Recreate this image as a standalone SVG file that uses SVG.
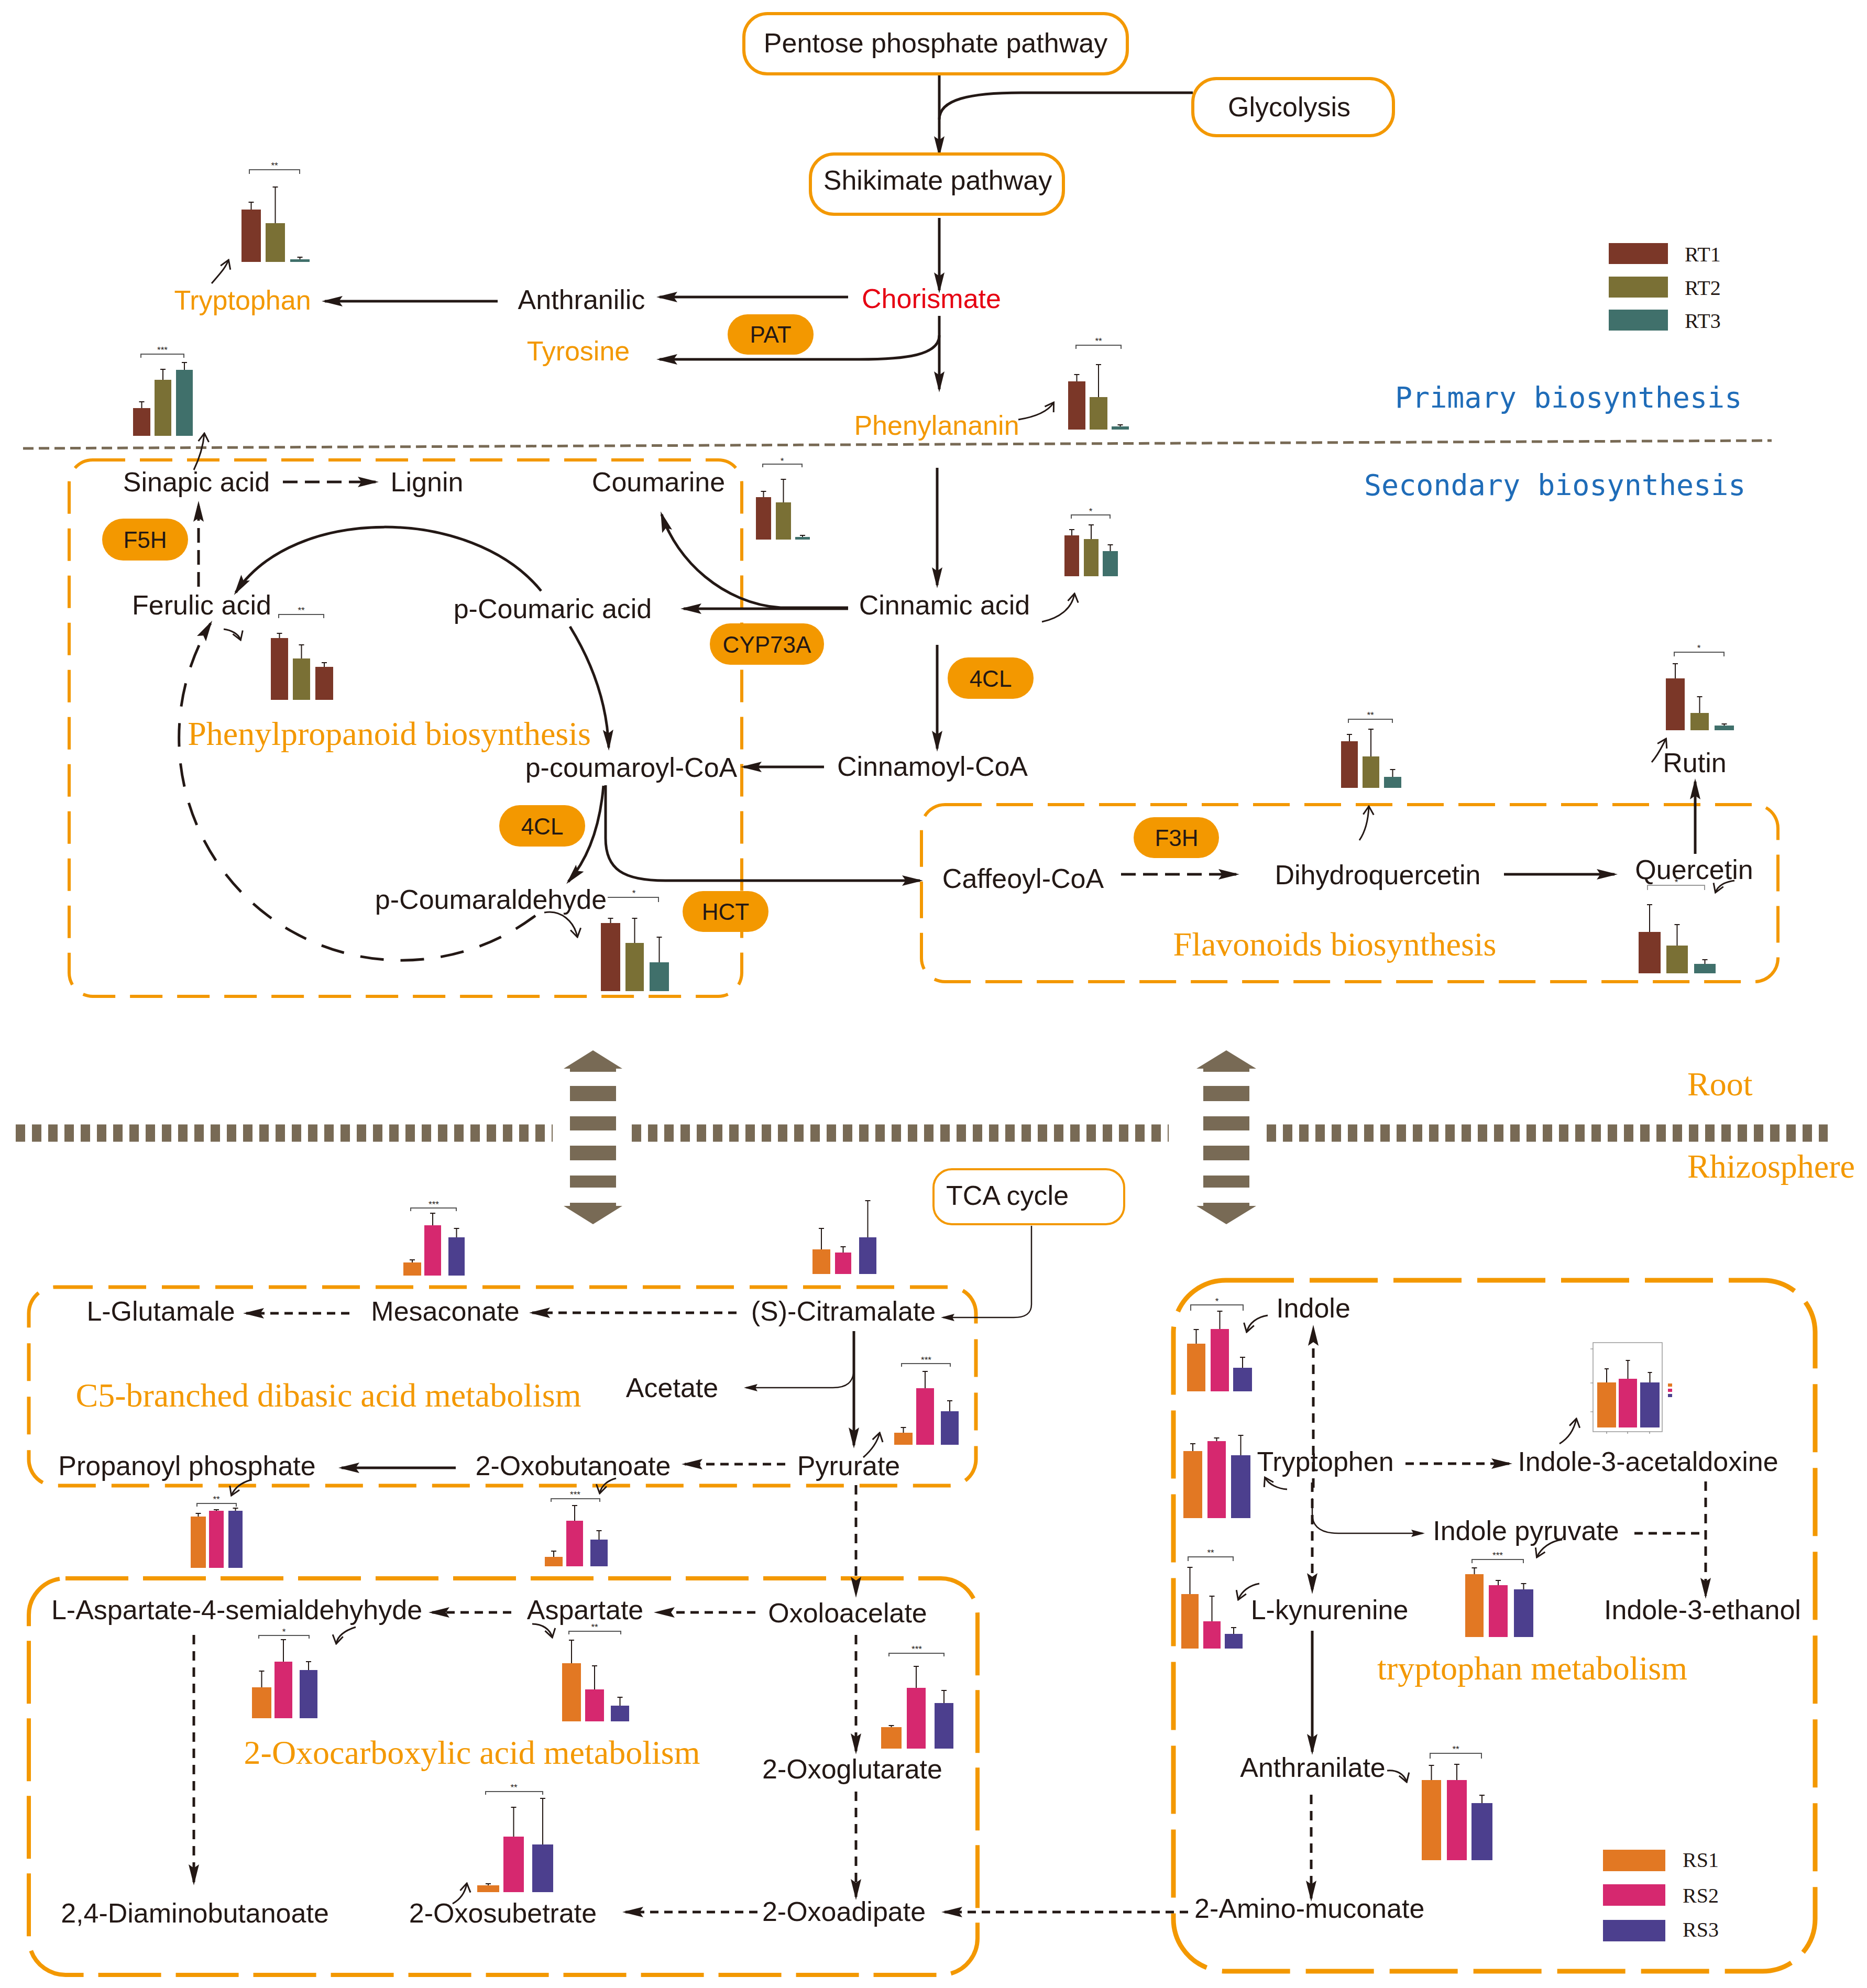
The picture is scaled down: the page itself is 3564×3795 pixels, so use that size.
<svg xmlns="http://www.w3.org/2000/svg" width="3564" height="3795" viewBox="0 0 3564 3795">
<style>
.lbl{font-family:"Liberation Sans",Arial,sans-serif;font-size:52px;fill:#231815;text-anchor:middle}
.pt{font-family:"Liberation Sans",Arial,sans-serif;font-size:44px;fill:#231815;text-anchor:middle}
.ser{font-family:"Liberation Serif","Times New Roman",serif;font-size:64px;fill:#F39800;text-anchor:middle}
.mono{font-family:"DejaVu Sans Mono","Liberation Mono",monospace;font-size:55px;fill:#1F6CB8}
.leg{font-family:"Liberation Serif","Times New Roman",serif;font-size:40px;fill:#231815}
.ast{font-family:"Liberation Sans",Arial,sans-serif;font-size:17px;fill:#231815;text-anchor:middle}
.org{fill:#F39800}
.red{fill:#E60012}
.nb{fill:#fff;stroke:#F39800;stroke-width:6}
.pill{fill:#F39800}
.ln{fill:none;stroke:#231815;stroke-width:5}
.th{fill:none;stroke:#231815;stroke-width:2.5}
.cv{fill:none;stroke:#231815;stroke-width:3}
.d1{stroke-dasharray:16 11}
.d2{stroke-dasharray:28 14}
.d3{stroke-dasharray:18 13}
.reg{fill:none;stroke:#F39800}
.rt1{fill:#7B3728}.rt2{fill:#7A7035}.rt3{fill:#40706B}
.rs1{fill:#E27823}.rs2{fill:#D6286F}.rs3{fill:#4C3F8E}
.eb{fill:none;stroke:#231815;stroke-width:2}
.br{fill:none;stroke:#555;stroke-width:2}
.sep{fill:#786A55}
</style>
<defs>
<marker id="ah" markerUnits="userSpaceOnUse" viewBox="0 0 40 20" markerWidth="40" markerHeight="20" refX="34" refY="10" orient="auto"><path d="M0,0 L40,10 L0,20 L7,10 z" fill="#231815"/></marker>
<marker id="ahs" markerUnits="userSpaceOnUse" viewBox="0 0 26 14" markerWidth="26" markerHeight="14" refX="22" refY="7" orient="auto"><path d="M0,0 L26,7 L0,14 L4,7 z" fill="#231815"/></marker>
<marker id="v" markerUnits="userSpaceOnUse" viewBox="0 0 20 24" markerWidth="20" markerHeight="24" refX="17" refY="12" orient="auto"><path d="M2,2 L18,12 L2,22" fill="none" stroke="#231815" stroke-width="3"/></marker>
</defs>
<rect width="3564" height="3795" fill="#fff"/>

<!-- separators -->
<g id="separators">
<line x1="44" y1="856" x2="3382" y2="841" stroke="#786A55" stroke-width="5" stroke-dasharray="20 10"/>
<g stroke="#786A55" stroke-width="33" stroke-dasharray="18 13">
<line x1="30" y1="2163" x2="1055" y2="2163"/>
<line x1="1206" y1="2163" x2="2231" y2="2163"/>
<line x1="2418" y1="2163" x2="3489" y2="2163"/>
</g>
</g>
<g id="exchange-left" class="sep">
<polygon points="1132,2005 1188,2040 1076,2040"/><rect x="1088" y="2038" width="88" height="8"/>
<rect x="1088" y="2073" width="88" height="29"/><rect x="1088" y="2131" width="88" height="27"/><rect x="1088" y="2187" width="88" height="28"/><rect x="1088" y="2244" width="88" height="23"/>
<rect x="1088" y="2296" width="88" height="8"/><polygon points="1076,2302 1188,2302 1132,2337"/>
</g>
<g id="exchange-right" class="sep">
<polygon points="2341,2005 2398,2040 2284,2040"/><rect x="2297" y="2038" width="88" height="8"/>
<rect x="2297" y="2073" width="88" height="29"/><rect x="2297" y="2131" width="88" height="27"/><rect x="2297" y="2187" width="88" height="28"/><rect x="2297" y="2244" width="88" height="23"/>
<rect x="2297" y="2296" width="88" height="8"/><polygon points="2284,2302 2398,2302 2341,2337"/>
</g>

<!-- region boxes -->
<g id="region-phenylpropanoid"><rect class="reg" x="132" y="878" width="1284" height="1024" rx="45" stroke-width="6" stroke-dasharray="62 28"/><text class="ser" x="743" y="1422">Phenylpropanoid biosynthesis</text></g>
<g id="region-flavonoids"><rect class="reg" x="1759" y="1536" width="1635" height="338" rx="45" stroke-width="6" stroke-dasharray="70 28"/><text class="ser" x="2548" y="1824">Flavonoids biosynthesis</text></g>
<g id="region-c5"><rect class="reg" x="55" y="2457" width="1808" height="379" rx="50" stroke-width="7" stroke-dasharray="72 30"/><text class="ser" x="627" y="2685">C5-branched dibasic acid metabolism</text></g>
<g id="region-oxocarboxylic"><rect class="reg" x="55" y="3013" width="1811" height="757" rx="70" stroke-width="8" stroke-dasharray="120 28"/><text class="ser" x="901" y="3367">2-Oxocarboxylic acid metabolism</text></g>
<g id="region-tryptophan"><rect class="reg" x="2240" y="2444" width="1225" height="1319" rx="100" stroke-width="9" stroke-dasharray="130 30"/><text class="ser" x="2925" y="3206">tryptophan metabolism</text></g>

<g id="section-labels">
<text class="mono" x="2663" y="778">Primary biosynthesis</text>
<text class="mono" x="2604" y="945">Secondary biosynthesis</text>
<text class="ser" x="3221" y="2091" style="text-anchor:start">Root</text>
<text class="ser" x="3221" y="2248" style="text-anchor:start">Rhizosphere</text>
</g>

<!-- connectors -->
<g id="connectors">
<path class="ln" d="M1793,141 V294" marker-end="url(#ah)"/>
<path class="ln" d="M2277,177 H1950 C1850,177 1793,190 1793,228"/>
<path class="ln" d="M1793,416 V554" marker-end="url(#ah)"/>
<path class="ln" d="M1619,567 H1259" marker-end="url(#ah)"/>
<path class="ln" d="M950,575 H620" marker-end="url(#ah)"/>
<path class="ln" d="M1793,603 V743" marker-end="url(#ah)"/>
<path class="ln" d="M1793,640 C1793,678 1730,686 1640,686 H1259" marker-end="url(#ah)"/>
<path class="ln" d="M1789,893 V1117" marker-end="url(#ah)"/>
<path class="ln" d="M1619,1162 H1305" marker-end="url(#ah)"/>
<path class="ln" d="M1619,1160 H1490 C1380,1152 1292,1070 1263,982" marker-end="url(#ah)"/>
<path class="ln" d="M1789,1231 V1429" marker-end="url(#ah)"/>
<path class="ln" d="M1573,1464 H1420" marker-end="url(#ah)"/>
<path class="ln" d="M1088,1196 Q1158,1310 1162,1427" marker-end="url(#ah)"/>
<path class="ln" d="M1033,1128 C900,965 560,965 450,1131" marker-end="url(#ah)"/>
<path class="ln" d="M1152,1500 C1145,1580 1122,1640 1085,1683" marker-end="url(#ah)"/>
<path class="ln" d="M1156,1499 V1600 C1156,1660 1190,1681 1270,1681 H1756" marker-end="url(#ah)"/>
<path class="ln" d="M1022,1748 A425,425 0 0 1 402,1190" stroke-dasharray="45 32" marker-end="url(#ah)"/>
<path class="ln d2" d="M379,1120 V962" marker-end="url(#ah)"/>
<path class="ln d2" d="M540,920 H717" marker-end="url(#ah)"/>
<path class="ln d2" d="M2140,1669 H2360" marker-end="url(#ah)"/>
<path class="ln" d="M2871,1669 H3082" marker-end="url(#ah)"/>
<path class="ln" d="M3236,1630 V1492" marker-end="url(#ah)"/>
<!-- chart pointers top -->
<path class="cv" d="M370,897 C382,872 388,850 390,828" marker-end="url(#v)"/>
<path class="cv" d="M404,541 C420,522 430,512 436,497" marker-end="url(#v)"/>
<path class="cv" d="M1944,801 C1975,796 2000,786 2011,769" marker-end="url(#v)"/>
<path class="cv" d="M1989,1187 C2022,1180 2046,1162 2051,1134" marker-end="url(#v)"/>
<path class="cv" d="M427,1201 C442,1203 455,1210 459,1221" marker-end="url(#v)"/>
<path class="cv" d="M1039,1742 C1072,1736 1096,1760 1102,1788" marker-end="url(#v)"/>
<path class="cv" d="M2595,1604 C2608,1585 2612,1562 2613,1540" marker-end="url(#v)"/>
<path class="cv" d="M3153,1455 C3166,1440 3172,1426 3180,1411" marker-end="url(#v)"/>
<path class="cv" d="M3311,1681 C3292,1684 3280,1690 3275,1703" marker-end="url(#v)"/>
<!-- bottom -->
<path class="th" d="M1969,2340 V2490 C1969,2508 1957,2515 1935,2515 H1800" marker-end="url(#ahs)"/>
<path class="ln d1" d="M1406,2506 H1016" marker-end="url(#ah)"/>
<path class="ln d1" d="M667,2507 H470" marker-end="url(#ah)"/>
<path class="ln" d="M1630,2541 V2759" marker-end="url(#ah)"/>
<path class="th" d="M1630,2612 C1630,2640 1615,2649 1590,2649 H1424" marker-end="url(#ahs)"/>
<path class="ln d1" d="M1499,2795 H1307" marker-end="url(#ah)"/>
<path class="ln" d="M870,2802 H652" marker-end="url(#ah)"/>
<path class="ln d3" d="M1634,2835 V3044" marker-end="url(#ah)"/>
<path class="ln d1" d="M1442,3078 H1254" marker-end="url(#ah)"/>
<path class="ln d1" d="M976,3078 H824" marker-end="url(#ah)"/>
<path class="ln d3" d="M370,3121 V3593" marker-end="url(#ah)"/>
<path class="ln d3" d="M1634,3121 V3343" marker-end="url(#ah)"/>
<path class="ln d3" d="M1634,3420 V3621" marker-end="url(#ah)"/>
<path class="ln d1" d="M1446,3650 H1194" marker-end="url(#ah)"/>
<path class="ln d1" d="M2268,3650 H1803" marker-end="url(#ah)"/>
<path class="ln d3" d="M2507,2840 V2535" marker-end="url(#ah)"/>
<path class="ln d3" d="M2505,2830 V3037" marker-end="url(#ah)"/>
<path class="ln d1" d="M2683,2794 H2881" marker-end="url(#ah)"/>
<path class="th" d="M2505,2860 V2890 C2505,2915 2522,2927 2555,2927 H2716" marker-end="url(#ahs)"/>
<path class="ln d1" d="M3120,2927 H3256"/>
<path class="ln d3" d="M3256,2828 V3046" marker-end="url(#ah)"/>
<path class="ln" d="M2505,3113 V3344" marker-end="url(#ah)"/>
<path class="ln d3" d="M2503,3426 V3624" marker-end="url(#ah)"/>
<!-- chart pointers bottom -->
<path class="cv" d="M1648,2782 C1664,2768 1675,2752 1679,2736" marker-end="url(#v)"/>
<path class="cv" d="M479,2825 C462,2830 448,2840 442,2854" marker-end="url(#v)"/>
<path class="cv" d="M1176,2822 C1160,2826 1148,2836 1145,2850" marker-end="url(#v)"/>
<path class="cv" d="M679,3106 C660,3112 645,3122 642,3137" marker-end="url(#v)"/>
<path class="cv" d="M1016,3100 C1035,3100 1050,3110 1054,3125" marker-end="url(#v)"/>
<path class="cv" d="M864,3634 C880,3625 888,3612 891,3596" marker-end="url(#v)"/>
<path class="cv" d="M2420,2511 C2400,2514 2385,2525 2380,2542" marker-end="url(#v)"/>
<path class="cv" d="M2457,2843 C2440,2842 2422,2834 2415,2821" marker-end="url(#v)"/>
<path class="cv" d="M2977,2756 C2995,2745 3005,2728 3009,2709" marker-end="url(#v)"/>
<path class="cv" d="M2982,2939 C2960,2942 2942,2955 2934,2972" marker-end="url(#v)"/>
<path class="cv" d="M2404,3023 C2385,3026 2370,3038 2364,3053" marker-end="url(#v)"/>
<path class="cv" d="M2648,3380 C2665,3378 2680,3386 2685,3401" marker-end="url(#v)"/>
</g>

<!-- nodes -->
<g id="n-pentose"><rect class="nb" x="1420" y="26" width="732" height="115" rx="45"/><text class="lbl" x="1786" y="100">Pentose phosphate pathway</text></g>
<g id="n-glycolysis"><rect class="nb" x="2277" y="150" width="383" height="109" rx="45"/><text class="lbl" x="2461" y="222">Glycolysis</text></g>
<g id="n-shikimate"><rect class="nb" x="1547" y="294" width="483" height="115" rx="45"/><text class="lbl" x="1790" y="362">Shikimate pathway</text></g>
<g id="n-chorismate"><text class="lbl red" x="1778" y="588">Chorismate</text></g>
<g id="n-anthranilic"><text class="lbl" x="1110" y="590">Anthranilic</text></g>
<g id="n-tryptophan"><text class="lbl org" x="463" y="591">Tryptophan</text></g>
<g id="n-tyrosine"><text class="lbl org" x="1104" y="688">Tyrosine</text></g>
<g id="n-phenylananin"><text class="lbl org" x="1788" y="830">Phenylananin</text></g>
<g id="n-sinapic"><text class="lbl" x="375" y="938">Sinapic acid</text></g>
<g id="n-lignin"><text class="lbl" x="815" y="938">Lignin</text></g>
<g id="n-coumarine"><text class="lbl" x="1257" y="938">Coumarine</text></g>
<g id="n-ferulic"><text class="lbl" x="385" y="1173">Ferulic acid</text></g>
<g id="n-pcoumaric"><text class="lbl" x="1055" y="1180">p-Coumaric acid</text></g>
<g id="n-cinnamic"><text class="lbl" x="1803" y="1173">Cinnamic acid</text></g>
<g id="n-pcoumaroyl"><text class="lbl" x="1205" y="1483">p-coumaroyl-CoA</text></g>
<g id="n-cinnamoyl"><text class="lbl" x="1780" y="1481">Cinnamoyl-CoA</text></g>
<g id="n-pcoumaraldehyde"><text class="lbl" x="937" y="1735">p-Coumaraldehyde</text></g>
<g id="n-caffeoyl"><text class="lbl" x="1953" y="1695">Caffeoyl-CoA</text></g>
<g id="n-dihydroquercetin"><text class="lbl" x="2630" y="1688">Dihydroquercetin</text></g>
<g id="n-quercetin"><text class="lbl" x="3234" y="1678">Quercetin</text></g>
<g id="n-rutin"><text class="lbl" x="3235" y="1474">Rutin</text></g>

<g id="e-pat"><rect class="pill" x="1389" y="600" width="164" height="77" rx="38"/><text class="pt" x="1471" y="654">PAT</text></g>
<g id="e-f5h"><rect class="pill" x="195" y="990" width="164" height="80" rx="40"/><text class="pt" x="277" y="1046">F5H</text></g>
<g id="e-cyp73a"><rect class="pill" x="1355" y="1190" width="218" height="79" rx="39"/><text class="pt" x="1464" y="1246">CYP73A</text></g>
<g id="e-4cl-right"><rect class="pill" x="1809" y="1255" width="164" height="79" rx="39"/><text class="pt" x="1891" y="1311">4CL</text></g>
<g id="e-4cl-left"><rect class="pill" x="953" y="1537" width="164" height="79" rx="39"/><text class="pt" x="1035" y="1593">4CL</text></g>
<g id="e-hct"><rect class="pill" x="1303" y="1701" width="164" height="78" rx="39"/><text class="pt" x="1385" y="1756">HCT</text></g>
<g id="e-f3h"><rect class="pill" x="2164" y="1560" width="163" height="78" rx="39"/><text class="pt" x="2246" y="1615">F3H</text></g>

<g id="n-tca"><rect class="nb" x="1782" y="2232" width="364" height="105" rx="35" style="stroke-width:4"/><text class="lbl" x="1806" y="2300" style="text-anchor:start">TCA cycle</text></g>
<g id="n-glutamale"><text class="lbl" x="307" y="2521">L-Glutamale</text></g>
<g id="n-mesaconate"><text class="lbl" x="850" y="2521">Mesaconate</text></g>
<g id="n-citramalate"><text class="lbl" x="1610" y="2521">(S)-Citramalate</text></g>
<g id="n-acetate"><text class="lbl" x="1283" y="2667">Acetate</text></g>
<g id="n-propanoyl"><text class="lbl" x="357" y="2816">Propanoyl phosphate</text></g>
<g id="n-oxobutanoate"><text class="lbl" x="1094" y="2816">2-Oxobutanoate</text></g>
<g id="n-pyrurate"><text class="lbl" x="1620" y="2816">Pyrurate</text></g>
<g id="n-laspartate"><text class="lbl" x="452" y="3091">L-Aspartate-4-semialdehyhyde</text></g>
<g id="n-aspartate"><text class="lbl" x="1117" y="3091">Aspartate</text></g>
<g id="n-oxoloacelate"><text class="lbl" x="1618" y="3097">Oxoloacelate</text></g>
<g id="n-oxoglutarate"><text class="lbl" x="1627" y="3395">2-Oxoglutarate</text></g>
<g id="n-diaminobutanoate"><text class="lbl" x="372" y="3670">2,4-Diaminobutanoate</text></g>
<g id="n-oxosubetrate"><text class="lbl" x="960" y="3670">2-Oxosubetrate</text></g>
<g id="n-oxoadipate"><text class="lbl" x="1611" y="3667">2-Oxoadipate</text></g>
<g id="n-indole"><text class="lbl" x="2507" y="2515">Indole</text></g>
<g id="n-tryptophen"><text class="lbl" x="2530" y="2808">Tryptophen</text></g>
<g id="n-acetaldoxine"><text class="lbl" x="3146" y="2808">Indole-3-acetaldoxine</text></g>
<g id="n-indolepyruvate"><text class="lbl" x="2913" y="2940">Indole pyruvate</text></g>
<g id="n-kynurenine"><text class="lbl" x="2538" y="3091">L-kynurenine</text></g>
<g id="n-ethanol"><text class="lbl" x="3250" y="3091">Indole-3-ethanol</text></g>
<g id="n-anthranilate"><text class="lbl" x="2506" y="3392">Anthranilate</text></g>
<g id="n-aminomuconate"><text class="lbl" x="2280" y="3661" style="text-anchor:start">2-Amino-muconate</text></g>

<!-- legends -->
<g id="legend-rt">
<rect class="rt1" x="3071" y="464" width="113" height="40"/><text class="leg" x="3216" y="499">RT1</text>
<rect class="rt2" x="3071" y="528" width="113" height="40"/><text class="leg" x="3216" y="563">RT2</text>
<rect class="rt3" x="3071" y="591" width="113" height="40"/><text class="leg" x="3216" y="626">RT3</text>
</g>
<g id="legend-rs">
<rect class="rs1" x="3060" y="3531" width="119" height="41"/><text class="leg" x="3212" y="3564">RS1</text>
<rect class="rs2" x="3060" y="3597" width="119" height="41"/><text class="leg" x="3212" y="3632">RS2</text>
<rect class="rs3" x="3060" y="3665" width="119" height="41"/><text class="leg" x="3212" y="3697">RS3</text>
</g>

<!-- charts -->
<g id="c-tryptophan"><rect class="rt1" x="461" y="400" width="37" height="100"/><rect class="rt2" x="507" y="426" width="37" height="74"/><rect class="rt3" x="554" y="495" width="37" height="5"/>
<path class="eb" d="M479.5,400V386M474.5,386H484.5M525.5,426V357M520.5,357H530.5M572.5,495V491M567.5,491H577.5"/>
<path class="br" d="M476,332V324H572V332"/><text class="ast" x="524" y="322">**</text></g>
<g id="c-sinapic"><rect class="rt1" x="254" y="779" width="33" height="53"/><rect class="rt2" x="295" y="725" width="32" height="107"/><rect class="rt3" x="336" y="706" width="32" height="126"/>
<path class="eb" d="M270.5,779V767M265.5,767H275.5M311,725V705M306,705H316M352,706V692M347,692H357"/>
<path class="br" d="M269,683V676H351V683"/><text class="ast" x="310" y="674">***</text></g>
<g id="c-phenylananin"><rect class="rt1" x="2039" y="728" width="33" height="92"/><rect class="rt2" x="2080" y="758" width="34" height="62"/><rect class="rt3" x="2122" y="814" width="33" height="6"/>
<path class="eb" d="M2055.5,728V715M2050.5,715H2060.5M2097,758V696M2092,696H2102M2138.5,814V811M2133.5,811H2143.5"/>
<path class="br" d="M2054,666V659H2140V666"/><text class="ast" x="2097" y="657">**</text></g>
<g id="c-coumarine"><rect class="rt1" x="1443" y="949" width="29" height="81"/><rect class="rt2" x="1481" y="959" width="29" height="71"/><rect class="rt3" x="1518" y="1025" width="28" height="5"/>
<path class="eb" d="M1457.5,949V938M1452.5,938H1462.5M1495.5,959V915M1490.5,915H1500.5M1532,1025V1022M1527,1022H1537"/>
<path class="br" d="M1456,892V886H1531V892"/><text class="ast" x="1493" y="886">*</text></g>
<g id="c-cinnamic"><rect class="rt1" x="2032" y="1022" width="28" height="78"/><rect class="rt2" x="2069" y="1029" width="28" height="71"/><rect class="rt3" x="2105" y="1052" width="29" height="48"/>
<path class="eb" d="M2046,1022V1011M2041,1011H2051M2083,1029V1002M2078,1002H2088M2119.5,1052V1040M2114.5,1040H2124.5"/>
<path class="br" d="M2045,990V983H2119V990"/><text class="ast" x="2082" y="982">*</text></g>
<g id="c-ferulic"><rect class="rt1" x="517" y="1218" width="33" height="118"/><rect class="rt2" x="559" y="1257" width="33" height="79"/><rect class="rt1" x="602" y="1273" width="34" height="63"/>
<path class="eb" d="M533.5,1218V1209M528.5,1209H538.5M575.5,1257V1231M570.5,1231H580.5M619,1273V1265M614,1265H624"/>
<path class="br" d="M532,1180V1173H618V1180"/><text class="ast" x="575" y="1171">**</text></g>
<g id="c-pcoumaraldehyde"><rect class="rt1" x="1147" y="1762" width="37" height="130"/><rect class="rt2" x="1194" y="1800" width="35" height="92"/><rect class="rt3" x="1240" y="1837" width="37" height="55"/>
<path class="eb" d="M1165.5,1762V1753M1160.5,1753H1170.5M1211.5,1800V1753M1206.5,1753H1216.5M1258.5,1837V1789M1253.5,1789H1263.5"/>
<path class="br" d="M1160,1713H1257V1722"/><text class="ast" x="1210" y="1711">*</text></g>
<g id="c-dihydroquercetin"><rect class="rt1" x="2560" y="1415" width="32" height="89"/><rect class="rt2" x="2601" y="1444" width="32" height="60"/><rect class="rt3" x="2642" y="1483" width="33" height="21"/>
<path class="eb" d="M2576,1415V1402M2571,1402H2581M2617,1444V1392M2612,1392H2622M2658.5,1483V1469M2653.5,1469H2663.5"/>
<path class="br" d="M2574,1380V1373H2658V1380"/><text class="ast" x="2616" y="1371">**</text></g>
<g id="c-rutin"><rect class="rt1" x="3180" y="1295" width="36" height="99"/><rect class="rt2" x="3227" y="1361" width="35" height="33"/><rect class="rt3" x="3273" y="1385" width="37" height="9"/>
<path class="eb" d="M3198,1295V1267M3193,1267H3203M3244.5,1361V1330M3239.5,1330H3249.5M3291.5,1385V1382M3286.5,1382H3296.5"/>
<path class="br" d="M3196,1253V1245H3291V1253"/><text class="ast" x="3243" y="1243">*</text></g>
<g id="c-quercetin"><rect class="rt1" x="3128" y="1779" width="42" height="79"/><rect class="rt2" x="3181" y="1805" width="41" height="53"/><rect class="rt3" x="3234" y="1840" width="41" height="18"/>
<path class="eb" d="M3149,1779V1727M3144,1727H3154M3201.5,1805V1765M3196.5,1765H3206.5M3254.5,1840V1832M3249.5,1832H3259.5"/>
<path class="br" d="M3145,1699V1690H3254V1699" style="stroke:#999"/><text class="ast" x="3200" y="1690">*</text></g>

<g id="c-mesaconate"><rect class="rs1" x="770" y="2410" width="34" height="25"/><rect class="rs2" x="810" y="2339" width="32" height="96"/><rect class="rs3" x="856" y="2362" width="31" height="73"/>
<path class="eb" d="M787,2410V2405M782,2405H792M826,2339V2316M821,2316H831M871.5,2362V2345M866.5,2345H876.5"/>
<path class="br" d="M784,2312V2306H871V2312"/><text class="ast" x="828" y="2305">***</text></g>
<g id="c-citramalate"><rect class="rs1" x="1551" y="2385" width="34" height="47"/><rect class="rs2" x="1594" y="2391" width="31" height="41"/><rect class="rs3" x="1640" y="2362" width="33" height="70"/>
<path class="eb" d="M1568,2385V2345M1563,2345H1573M1609.5,2391V2380M1604.5,2380H1614.5M1656.5,2362V2292M1651.5,2292H1661.5"/></g>
<g id="c-pyrurate"><rect class="rs1" x="1707" y="2735" width="35" height="23"/><rect class="rs2" x="1749" y="2650" width="34" height="108"/><rect class="rs3" x="1796" y="2694" width="34" height="64"/>
<path class="eb" d="M1724.5,2735V2725M1719.5,2725H1729.5M1766,2650V2618M1761,2618H1771M1813,2694V2674M1808,2674H1818"/>
<path class="br" d="M1721,2609V2603H1814V2609"/><text class="ast" x="1768" y="2602">***</text></g>
<g id="c-propanoyl"><rect class="rs1" x="364" y="2895" width="29" height="98"/><rect class="rs2" x="399" y="2884" width="28" height="109"/><rect class="rs3" x="436" y="2884" width="27" height="109"/>
<path class="eb" d="M378.5,2895V2889M373.5,2889H383.5M413,2884V2882M408,2882H418M449.5,2884V2879M444.5,2879H454.5"/>
<path class="br" d="M376,2876V2870H451V2876"/><text class="ast" x="413" y="2868">**</text></g>
<g id="c-oxobutanoate"><rect class="rs1" x="1040" y="2972" width="34" height="18"/><rect class="rs2" x="1081" y="2903" width="32" height="87"/><rect class="rs3" x="1127" y="2939" width="33" height="51"/>
<path class="eb" d="M1057,2972V2961M1052,2961H1062M1097,2903V2874M1092,2874H1102M1143.5,2939V2922M1138.5,2922H1148.5"/>
<path class="br" d="M1052,2867V2861H1145V2867"/><text class="ast" x="1098" y="2859">***</text></g>
<g id="c-laspartate"><rect class="rs1" x="481" y="3221" width="37" height="59"/><rect class="rs2" x="524" y="3172" width="34" height="108"/><rect class="rs3" x="572" y="3188" width="34" height="92"/>
<path class="eb" d="M499.5,3221V3190M494.5,3190H504.5M541,3172V3130M536,3130H546M589,3188V3172M584,3172H594"/>
<path class="br" d="M494,3128V3122H590V3128"/><text class="ast" x="542" y="3121">*</text></g>
<g id="c-aspartate"><rect class="rs1" x="1073" y="3175" width="36" height="111"/><rect class="rs2" x="1117" y="3225" width="36" height="61"/><rect class="rs3" x="1166" y="3256" width="35" height="30"/>
<path class="eb" d="M1091,3175V3131M1086,3131H1096M1135,3225V3180M1130,3180H1140M1183.5,3256V3240M1178.5,3240H1188.5"/>
<path class="br" d="M1086,3120V3114H1185V3120"/><text class="ast" x="1135" y="3112">**</text></g>
<g id="c-oxoglutarate"><rect class="rs1" x="1682" y="3297" width="39" height="41"/><rect class="rs2" x="1731" y="3222" width="36" height="116"/><rect class="rs3" x="1784" y="3251" width="36" height="87"/>
<path class="eb" d="M1701.5,3297V3294M1696.5,3294H1706.5M1749,3222V3181M1744,3181H1754M1802,3251V3227M1797,3227H1807"/>
<path class="br" d="M1697,3162V3156H1802V3162"/><text class="ast" x="1750" y="3154">***</text></g>
<g id="c-oxosubetrate"><rect class="rs1" x="911" y="3599" width="42" height="13"/><rect class="rs2" x="961" y="3506" width="39" height="106"/><rect class="rs3" x="1016" y="3521" width="40" height="91"/>
<path class="eb" d="M932,3599V3596M927,3596H937M980.5,3506V3450M975.5,3450H985.5M1036,3521V3433M1031,3433H1041"/>
<path class="br" d="M927,3426V3420H1036V3426"/><text class="ast" x="981" y="3418">**</text></g>
<g id="c-indole"><rect class="rs1" x="2266" y="2565" width="35" height="91"/><rect class="rs2" x="2311" y="2537" width="35" height="119"/><rect class="rs3" x="2354" y="2611" width="36" height="45"/>
<path class="eb" d="M2283.5,2565V2538M2278.5,2538H2288.5M2328.5,2537V2503M2323.5,2503H2333.5M2372,2611V2591M2367,2591H2377"/>
<path class="br" d="M2273,2502V2491H2373V2502"/><text class="ast" x="2323" y="2490">*</text></g>
<g id="c-tryptophen"><rect class="rs1" x="2259" y="2770" width="36" height="128"/><rect class="rs2" x="2305" y="2751" width="35" height="147"/><rect class="rs3" x="2350" y="2778" width="37" height="120"/>
<path class="eb" d="M2277,2770V2756M2272,2756H2282M2322.5,2751V2745M2317.5,2745H2327.5M2368.5,2778V2740M2363.5,2740H2373.5"/></g>
<g id="c-acetaldoxine"><rect x="3041" y="2563" width="132" height="170" fill="#fff" stroke="#999" stroke-width="1.5"/>
<path d="M3041,2575h-5M3041,2640h-5M3041,2695h-5M3067,2733v4M3107,2733v4M3149,2733v4" stroke="#777" stroke-width="1.2"/>
<rect class="rs1" x="3049" y="2639" width="36" height="86"/><rect class="rs2" x="3090" y="2632" width="35" height="93"/><rect class="rs3" x="3131" y="2639" width="37" height="86"/>
<path class="eb" d="M3067,2639V2613M3063,2613H3071M3107.5,2632V2597M3103.5,2597H3111.5M3149.5,2639V2620M3145.5,2620H3153.5"/>
<rect class="rs1" x="3184" y="2641" width="8" height="6"/><rect class="rs2" x="3184" y="2651" width="8" height="6"/><rect class="rs3" x="3184" y="2661" width="8" height="6"/></g>
<g id="c-indolepyruvate"><rect class="rs1" x="2797" y="3005" width="35" height="120"/><rect class="rs2" x="2842" y="3026" width="36" height="99"/><rect class="rs3" x="2890" y="3034" width="37" height="91"/>
<path class="eb" d="M2814.5,3005V2993M2809.5,2993H2819.5M2860,3026V3017M2855,3017H2865M2908.5,3034V3023M2903.5,3023H2913.5"/>
<path class="br" d="M2810,2984V2977H2908V2984"/><text class="ast" x="2859" y="2975">***</text></g>
<g id="c-kynurenine"><rect class="rs1" x="2255" y="3043" width="33" height="104"/><rect class="rs2" x="2297" y="3095" width="33" height="52"/><rect class="rs3" x="2338" y="3119" width="34" height="28"/>
<path class="eb" d="M2271.5,3043V2992M2266.5,2992H2276.5M2313.5,3095V3047M2308.5,3047H2318.5M2355,3119V3107M2350,3107H2360"/>
<path class="br" d="M2268,2980V2972H2354V2980"/><text class="ast" x="2311" y="2970">**</text></g>
<g id="c-anthranilate"><rect class="rs1" x="2714" y="3398" width="37" height="153"/><rect class="rs2" x="2762" y="3398" width="38" height="153"/><rect class="rs3" x="2809" y="3442" width="40" height="109"/>
<path class="eb" d="M2732.5,3398V3370M2727.5,3370H2737.5M2781,3398V3368M2776,3368H2786M2829,3442V3427M2824,3427H2834"/>
<path class="br" d="M2730,3357V3347H2828V3357"/><text class="ast" x="2779" y="3345">**</text></g>
</svg>
